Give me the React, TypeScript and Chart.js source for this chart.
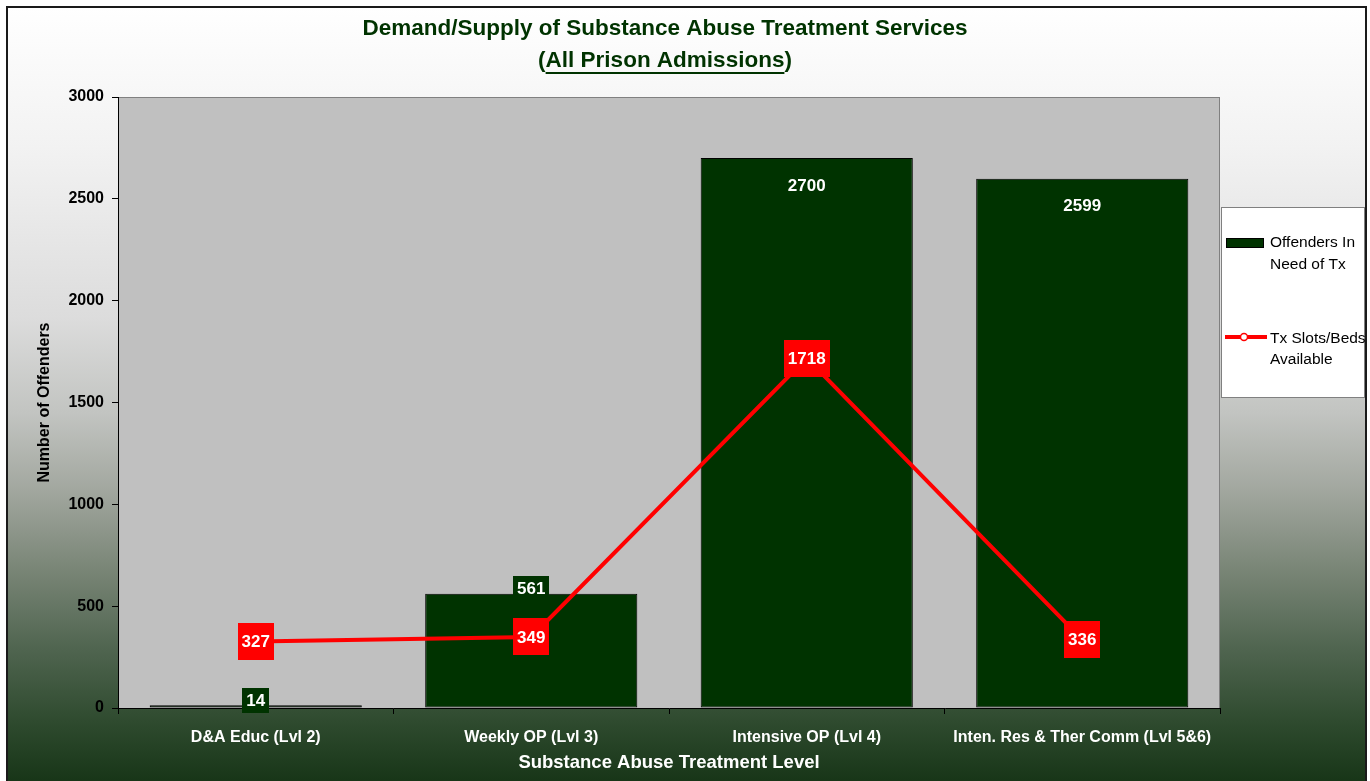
import React, { useEffect, useRef } from 'react';
import { Chart, registerables } from 'chart.js';

Chart.register(...registerables);

const categories = ['D&A Educ (Lvl 2)', 'Weekly OP (Lvl 3)', 'Intensive OP (Lvl 4)', 'Inten. Res & Ther Comm (Lvl 5&6)'];
const offendersInNeed = [14, 561, 2700, 2599];
const slotsAvailable = [327, 349, 1718, 336];
const yMin = 0;
const yMax = 3000;
const yStep = 500;
const titleLine1 = 'Demand/Supply of Substance Abuse Treatment Services';
const titleLine2 = 'All Prison Admissions';
const legendOffenders = ['Offenders In', 'Need of Tx'];
const legendSlots = ['Tx Slots/Beds', 'Available'];

const FONT = "'Liberation Sans', Arial, sans-serif";
const GREEN = '#003300';
const RED = '#ff0000';

const plotBgPlugin = {
  id: 'plotBg',
  beforeDraw(chart: any) {
    const { ctx, chartArea: a } = chart;
    ctx.save();
    ctx.fillStyle = '#c0c0c0';
    ctx.fillRect(a.left, a.top, a.right - a.left, a.bottom - a.top);
    ctx.strokeStyle = '#808080';
    ctx.lineWidth = 1;
    ctx.strokeRect(a.left + 0.5, a.top + 0.5, a.right - a.left - 1, a.bottom - a.top);
    ctx.restore();
  },
};

function drawBoxLabel(ctx: any, text: string, cx: number, cy: number, bg: string, padX: number, h: number) {
  ctx.font = `bold 17px ${FONT}`;
  const w = ctx.measureText(text).width + padX * 2;
  ctx.fillStyle = bg;
  ctx.fillRect(Math.round(cx - w / 2), Math.round(cy - h / 2), Math.round(w), h);
  ctx.fillStyle = '#ffffff';
  ctx.textAlign = 'center';
  ctx.textBaseline = 'middle';
  ctx.fillText(text, cx, cy + 1);
}

const labelsPlugin = {
  id: 'valueLabels',
  afterDatasetsDraw(chart: any) {
    const { ctx } = chart;
    ctx.save();
    chart.data.datasets.forEach((ds: any, di: number) => {
      const meta = chart.getDatasetMeta(di);
      if (ds.type === 'bar') {
        meta.data.forEach((el: any, i: number) => {
          const h = el.base - el.y;
          const cy = h > 200 ? el.y + 27 : el.y - 5;
          drawBoxLabel(ctx, String(ds.data[i]), el.x, cy, GREEN, 4, 25);
        });
      }
    });
    chart.data.datasets.forEach((ds: any, di: number) => {
      const meta = chart.getDatasetMeta(di);
      if (ds.type === 'line') {
        meta.data.forEach((el: any, i: number) => {
          drawBoxLabel(ctx, String(ds.data[i]), el.x, el.y, RED, 4, 37);
        });
      }
    });
    ctx.restore();
  },
};

const titleLegendPlugin = {
  id: 'titleLegend',
  afterDraw(chart: any) {
    const { ctx } = chart;
    ctx.save();
    // Title
    ctx.fillStyle = GREEN;
    ctx.font = `bold 22.5px ${FONT}`;
    ctx.textAlign = 'center';
    ctx.textBaseline = 'middle';
    const cx = 665;
    ctx.fillText(titleLine1, cx, 29);
    const open = '(';
    const close = ')';
    const wO = ctx.measureText(open).width;
    const wM = ctx.measureText(titleLine2).width;
    const wC = ctx.measureText(close).width;
    const total = wO + wM + wC;
    const x = cx - total / 2;
    ctx.textAlign = 'left';
    ctx.fillText(open, x, 61);
    ctx.fillText(titleLine2, x + wO, 61);
    ctx.fillText(close, x + wO + wM, 61);
    ctx.fillRect(x + wO, 72, wM, 2);

    // Legend
    const lx = 1221, ly = 207, lw = 144, lh = 191;
    ctx.fillStyle = '#ffffff';
    ctx.fillRect(lx, ly, lw, lh);
    ctx.strokeStyle = '#808080';
    ctx.lineWidth = 1;
    ctx.strokeRect(lx + 0.5, ly + 0.5, lw - 1, lh - 1);

    ctx.fillStyle = GREEN;
    ctx.fillRect(1226, 238, 38, 10);
    ctx.strokeStyle = '#000000';
    ctx.strokeRect(1226.5, 238.5, 37, 9);

    ctx.strokeStyle = RED;
    ctx.lineWidth = 4;
    ctx.beginPath();
    ctx.moveTo(1225, 337);
    ctx.lineTo(1267, 337);
    ctx.stroke();
    ctx.beginPath();
    ctx.arc(1244, 337, 3.5, 0, Math.PI * 2);
    ctx.fillStyle = '#ffffff';
    ctx.fill();
    ctx.lineWidth = 1.5;
    ctx.stroke();

    ctx.fillStyle = '#000000';
    ctx.font = `15.5px ${FONT}`;
    ctx.textAlign = 'left';
    ctx.textBaseline = 'middle';
    legendOffenders.forEach((t, i) => ctx.fillText(t, 1270, 243 + i * 22));
    legendSlots.forEach((t, i) => ctx.fillText(t, 1270, 339 + i * 21));
    ctx.restore();
  },
};

export default function App() {
  const ref = useRef<HTMLCanvasElement | null>(null);

  useEffect(() => {
    if (!ref.current) return;
    const chart = new Chart(ref.current, {
      type: 'bar',
      data: {
        labels: categories,
        datasets: [
          {
            type: 'line',
            label: 'Tx Slots/Beds Available',
            data: slotsAvailable,
            borderColor: RED,
            backgroundColor: RED,
            borderWidth: 4,
            pointRadius: 0,
            tension: 0,
            order: 0,
          } as any,
          {
            type: 'bar',
            label: 'Offenders In Need of Tx',
            data: offendersInNeed,
            backgroundColor: GREEN,
            borderColor: '#000000',
            borderWidth: 1,
            borderSkipped: false,
            barPercentage: 0.77,
            categoryPercentage: 1,
            order: 1,
          } as any,
        ],
      },
      options: {
        responsive: false,
        animation: false,
        layout: { padding: { top: 97, right: 150, left: 0, bottom: 0 } },
        plugins: {
          legend: { display: false },
          title: { display: false },
          tooltip: { enabled: false },
        },
        scales: {
          x: {
            offset: true,
            grid: { display: true, drawOnChartArea: false, drawTicks: true, tickLength: 6, color: '#000000', offset: true },
            border: { display: true, color: '#000000', width: 1 },
            ticks: { color: '#ffffff', font: { family: FONT, size: 16, weight: 'bold' }, padding: 14, maxRotation: 0, autoSkip: false },
            title: { display: true, text: 'Substance Abuse Treatment Level', color: '#ffffff', font: { family: FONT, size: 18.5, weight: 'bold' }, padding: { top: 0, bottom: 7 } },
            afterFit: (s: any) => { s.height = 73; },
          },
          y: {
            min: yMin,
            max: yMax,
            ticks: {
              stepSize: yStep,
              color: '#000000',
              font: { family: FONT, size: 16, weight: 'bold' },
              padding: 8,
              callback: (v: any) => String(v),
            },
            grid: { display: true, drawOnChartArea: false, drawTicks: true, tickLength: 6, color: '#000000' },
            border: { display: true, color: '#000000', width: 1 },
            title: { display: true, text: 'Number of Offenders', color: '#000000', font: { family: FONT, size: 16, weight: 'bold' }, padding: { top: 35, bottom: 0 } },
            afterFit: (s: any) => { s.width = 118; },
          },
        },
      } as any,
      plugins: [plotBgPlugin, labelsPlugin, titleLegendPlugin],
    });
    return () => chart.destroy();
  }, []);

  return (
    <div style={{ position: 'absolute', left: 0, top: 0, width: 1370, height: 781, background: '#ffffff', overflow: 'hidden' }}>
      <div
        style={{
          position: 'absolute',
          left: 6,
          top: 6,
          width: 1357,
          height: 800,
          border: '2px solid #1a1a1a',
          background:
            'linear-gradient(to bottom, #ffffff 0px, #f2f2f2 140px, #dcdcdc 310px, #c2c4c1 405px, #a2a79f 482px, #7a8677 560px, #506550 640px, #2e4a2e 715px, #173517 775px)',
        }}
      />
      <canvas ref={ref} width={1370} height={781} style={{ position: 'absolute', left: 0, top: 0 }} />
    </div>
  );
}
